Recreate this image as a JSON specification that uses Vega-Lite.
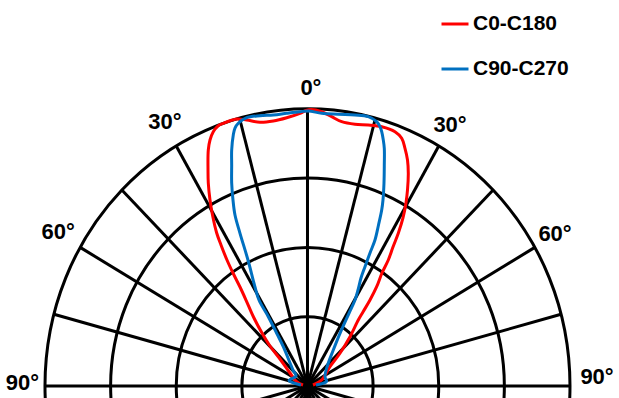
{
  "$schema": "https://vega.github.io/schema/vega-lite/v6.json",
  "width": 619,
  "height": 398,
  "autosize": {"type": "none"},
  "padding": 0,
  "background": "white",
  "config": {"view": {"stroke": null}},
  "datasets": {
    "rings": [{"r": 25}, {"r": 50}, {"r": 75}, {"r": 100}],
    "spokes": [
      {"angle": 0, "ex": 0, "ey": 100},
      {"angle": 15, "ex": 25.88, "ey": 96.59},
      {"angle": 30, "ex": 50, "ey": 86.6},
      {"angle": 45, "ex": 70.71, "ey": 70.71},
      {"angle": 60, "ex": 86.6, "ey": 50},
      {"angle": 75, "ex": 96.59, "ey": 25.88},
      {"angle": 90, "ex": 100, "ey": 0},
      {"angle": 105, "ex": 96.59, "ey": -25.88},
      {"angle": 120, "ex": 86.6, "ey": -50},
      {"angle": 135, "ex": 70.71, "ey": -70.71},
      {"angle": 150, "ex": 50, "ey": -86.6},
      {"angle": 165, "ex": 25.88, "ey": -96.59},
      {"angle": 180, "ex": 0, "ey": -100},
      {"angle": 195, "ex": -25.88, "ey": -96.59},
      {"angle": 210, "ex": -50, "ey": -86.6},
      {"angle": 225, "ex": -70.71, "ey": -70.71},
      {"angle": 240, "ex": -86.6, "ey": -50},
      {"angle": 255, "ex": -96.59, "ey": -25.88},
      {"angle": 270, "ex": -100, "ey": 0},
      {"angle": 285, "ex": -96.59, "ey": 25.88},
      {"angle": 300, "ex": -86.6, "ey": 50},
      {"angle": 315, "ex": -70.71, "ey": 70.71},
      {"angle": 330, "ex": -50, "ey": 86.6},
      {"angle": 345, "ex": -25.88, "ey": 96.59}
    ],
    "labels": [
      {"text": "0°", "x": 1.3, "y": 107.5},
      {"text": "30°", "x": -54.3, "y": 95.2},
      {"text": "30°", "x": 54.3, "y": 94.2},
      {"text": "60°", "x": -95.0, "y": 55.6},
      {"text": "60°", "x": 94.3, "y": 54.8},
      {"text": "90°", "x": -108.6, "y": 1.1},
      {"text": "90°", "x": 110.3, "y": 3.2}
    ],
    "curves": [
      {"series": "C0-C180", "i": 1, "x": -1.71, "y": 0.36},
      {"series": "C0-C180", "i": 2, "x": -4.0, "y": 1.44},
      {"series": "C0-C180", "i": 3, "x": -6.67, "y": 4.69},
      {"series": "C0-C180", "i": 4, "x": -10.48, "y": 9.74},
      {"series": "C0-C180", "i": 5, "x": -14.29, "y": 14.43},
      {"series": "C0-C180", "i": 6, "x": -17.33, "y": 19.12},
      {"series": "C0-C180", "i": 7, "x": -20.57, "y": 24.89},
      {"series": "C0-C180", "i": 8, "x": -23.43, "y": 31.02},
      {"series": "C0-C180", "i": 9, "x": -25.71, "y": 35.71},
      {"series": "C0-C180", "i": 10, "x": -28.38, "y": 40.76},
      {"series": "C0-C180", "i": 11, "x": -30.67, "y": 45.45},
      {"series": "C0-C180", "i": 12, "x": -32.95, "y": 50.87},
      {"series": "C0-C180", "i": 13, "x": -34.59, "y": 55.19},
      {"series": "C0-C180", "i": 14, "x": -36.19, "y": 61.69},
      {"series": "C0-C180", "i": 15, "x": -37.14, "y": 67.1},
      {"series": "C0-C180", "i": 16, "x": -37.79, "y": 73.23},
      {"series": "C0-C180", "i": 17, "x": -37.9, "y": 77.92},
      {"series": "C0-C180", "i": 18, "x": -37.79, "y": 85.14},
      {"series": "C0-C180", "i": 19, "x": -37.14, "y": 88.74},
      {"series": "C0-C180", "i": 20, "x": -35.89, "y": 91.74},
      {"series": "C0-C180", "i": 21, "x": -34.1, "y": 93.8},
      {"series": "C0-C180", "i": 22, "x": -32.08, "y": 94.77},
      {"series": "C0-C180", "i": 23, "x": -26.97, "y": 96.32},
      {"series": "C0-C180", "i": 24, "x": -23.16, "y": 95.96},
      {"series": "C0-C180", "i": 25, "x": -18.1, "y": 95.13},
      {"series": "C0-C180", "i": 26, "x": -13.03, "y": 95.6},
      {"series": "C0-C180", "i": 27, "x": -7.92, "y": 96.79},
      {"series": "C0-C180", "i": 28, "x": -2.86, "y": 98.38},
      {"series": "C0-C180", "i": 29, "x": -0.57, "y": 99.39},
      {"series": "C0-C180", "i": 30, "x": 1.33, "y": 99.75},
      {"series": "C0-C180", "i": 31, "x": 5.41, "y": 98.95},
      {"series": "C0-C180", "i": 32, "x": 9.22, "y": 97.15},
      {"series": "C0-C180", "i": 33, "x": 13.03, "y": 95.35},
      {"series": "C0-C180", "i": 34, "x": 18.1, "y": 94.41},
      {"series": "C0-C180", "i": 35, "x": 23.16, "y": 94.16},
      {"series": "C0-C180", "i": 36, "x": 28.27, "y": 93.54},
      {"series": "C0-C180", "i": 37, "x": 33.33, "y": 91.74},
      {"series": "C0-C180", "i": 38, "x": 35.89, "y": 89.36},
      {"series": "C0-C180", "i": 39, "x": 37.14, "y": 85.75},
      {"series": "C0-C180", "i": 40, "x": 38.1, "y": 81.53},
      {"series": "C0-C180", "i": 41, "x": 38.4, "y": 76.73},
      {"series": "C0-C180", "i": 42, "x": 38.1, "y": 70.71},
      {"series": "C0-C180", "i": 43, "x": 37.52, "y": 66.02},
      {"series": "C0-C180", "i": 44, "x": 36.38, "y": 60.61},
      {"series": "C0-C180", "i": 45, "x": 34.59, "y": 55.09},
      {"series": "C0-C180", "i": 46, "x": 32.57, "y": 50.14},
      {"series": "C0-C180", "i": 47, "x": 30.78, "y": 45.45},
      {"series": "C0-C180", "i": 48, "x": 28.38, "y": 40.76},
      {"series": "C0-C180", "i": 49, "x": 26.36, "y": 35.82},
      {"series": "C0-C180", "i": 50, "x": 23.81, "y": 31.02},
      {"series": "C0-C180", "i": 51, "x": 21.14, "y": 26.7},
      {"series": "C0-C180", "i": 52, "x": 19.35, "y": 23.81},
      {"series": "C0-C180", "i": 53, "x": 16.19, "y": 17.78},
      {"series": "C0-C180", "i": 54, "x": 12.38, "y": 11.8},
      {"series": "C0-C180", "i": 55, "x": 8.57, "y": 6.96},
      {"series": "C0-C180", "i": 56, "x": 5.41, "y": 2.16},
      {"series": "C0-C180", "i": 57, "x": 2.1, "y": 0.36},
      {"series": "C90-C270", "i": 1, "x": -2.48, "y": 0.36},
      {"series": "C90-C270", "i": 2, "x": -7.05, "y": 1.98},
      {"series": "C90-C270", "i": 3, "x": -4.38, "y": 3.61},
      {"series": "C90-C270", "i": 4, "x": -5.52, "y": 5.77},
      {"series": "C90-C270", "i": 5, "x": -9.22, "y": 14.18},
      {"series": "C90-C270", "i": 6, "x": -11.73, "y": 19.01},
      {"series": "C90-C270", "i": 7, "x": -14.93, "y": 25.0},
      {"series": "C90-C270", "i": 8, "x": -18.48, "y": 31.02},
      {"series": "C90-C270", "i": 9, "x": -20.0, "y": 35.71},
      {"series": "C90-C270", "i": 10, "x": -22.67, "y": 45.45},
      {"series": "C90-C270", "i": 11, "x": -25.71, "y": 55.09},
      {"series": "C90-C270", "i": 12, "x": -27.62, "y": 61.69},
      {"series": "C90-C270", "i": 13, "x": -28.38, "y": 67.1},
      {"series": "C90-C270", "i": 14, "x": -28.88, "y": 73.23},
      {"series": "C90-C270", "i": 15, "x": -28.88, "y": 79.73},
      {"series": "C90-C270", "i": 16, "x": -28.88, "y": 85.14},
      {"series": "C90-C270", "i": 17, "x": -28.27, "y": 90.55},
      {"series": "C90-C270", "i": 18, "x": -27.62, "y": 93.07},
      {"series": "C90-C270", "i": 19, "x": -26.36, "y": 94.77},
      {"series": "C90-C270", "i": 20, "x": -23.16, "y": 96.79},
      {"series": "C90-C270", "i": 21, "x": -18.1, "y": 97.51},
      {"series": "C90-C270", "i": 22, "x": -13.03, "y": 97.76},
      {"series": "C90-C270", "i": 23, "x": -7.92, "y": 98.38},
      {"series": "C90-C270", "i": 24, "x": -2.86, "y": 98.95},
      {"series": "C90-C270", "i": 25, "x": 0.3, "y": 99.21},
      {"series": "C90-C270", "i": 26, "x": 5.41, "y": 98.38},
      {"series": "C90-C270", "i": 27, "x": 11.73, "y": 98.02},
      {"series": "C90-C270", "i": 28, "x": 18.1, "y": 97.76},
      {"series": "C90-C270", "i": 29, "x": 23.16, "y": 97.15},
      {"series": "C90-C270", "i": 30, "x": 26.36, "y": 95.35},
      {"series": "C90-C270", "i": 31, "x": 27.62, "y": 93.54},
      {"series": "C90-C270", "i": 32, "x": 28.27, "y": 91.74},
      {"series": "C90-C270", "i": 33, "x": 28.88, "y": 88.74},
      {"series": "C90-C270", "i": 34, "x": 29.26, "y": 85.75},
      {"series": "C90-C270", "i": 35, "x": 29.26, "y": 79.73},
      {"series": "C90-C270", "i": 36, "x": 29.14, "y": 73.13},
      {"series": "C90-C270", "i": 37, "x": 28.76, "y": 67.1},
      {"series": "C90-C270", "i": 38, "x": 28.27, "y": 63.49},
      {"series": "C90-C270", "i": 39, "x": 27.05, "y": 58.08},
      {"series": "C90-C270", "i": 40, "x": 25.71, "y": 52.67},
      {"series": "C90-C270", "i": 41, "x": 23.81, "y": 47.98},
      {"series": "C90-C270", "i": 42, "x": 21.9, "y": 43.04},
      {"series": "C90-C270", "i": 43, "x": 20.38, "y": 38.96},
      {"series": "C90-C270", "i": 44, "x": 19.24, "y": 34.63},
      {"series": "C90-C270", "i": 45, "x": 18.1, "y": 31.02},
      {"series": "C90-C270", "i": 46, "x": 15.81, "y": 26.23},
      {"series": "C90-C270", "i": 47, "x": 12.38, "y": 19.01},
      {"series": "C90-C270", "i": 48, "x": 9.83, "y": 12.99},
      {"series": "C90-C270", "i": 49, "x": 7.43, "y": 6.85},
      {"series": "C90-C270", "i": 50, "x": 6.67, "y": 3.35},
      {"series": "C90-C270", "i": 51, "x": 7.24, "y": 1.62},
      {"series": "C90-C270", "i": 52, "x": 3.24, "y": 0.36}
    ]
  },
  "layer": [
    {
      "data": {"name": "rings"},
      "mark": {"type": "point", "shape": "M -1 0 A 1 1.056 0 1 1 1 0 A 1 1.056 0 1 1 -1 0 Z", "filled": false, "stroke": "black", "strokeWidth": 3, "opacity": 1, "clip": true},
      "encoding": {
        "x": {"datum": 0, "type": "quantitative", "scale": {"domain": [-117.14, 118.67], "nice": false, "zero": false}, "axis": null},
        "y": {"datum": 0, "type": "quantitative", "scale": {"domain": [-4.33, 139.25], "nice": false, "zero": false}, "axis": null},
        "size": {"field": "r", "type": "quantitative", "scale": {"type": "pow", "exponent": 2, "domain": [0, 100], "range": [0, 275625]}, "legend": null}
      }
    },
    {
      "data": {"name": "spokes"},
      "mark": {"type": "rule", "stroke": "black", "strokeWidth": 3, "clip": true},
      "encoding": {
        "x": {"field": "ex", "type": "quantitative", "scale": {"domain": [-117.14, 118.67], "nice": false, "zero": false}, "axis": null},
        "y": {"field": "ey", "type": "quantitative", "scale": {"domain": [-4.33, 139.25], "nice": false, "zero": false}, "axis": null},
        "x2": {"datum": 0},
        "y2": {"datum": 0}
      }
    },
    {
      "data": {"name": "curves"},
      "mark": {"type": "line", "strokeWidth": 3, "interpolate": "catmull-rom", "strokeJoin": "round", "clip": true},
      "encoding": {
        "x": {"field": "x", "type": "quantitative", "scale": {"domain": [-117.14, 118.67], "nice": false, "zero": false}, "axis": null},
        "y": {"field": "y", "type": "quantitative", "scale": {"domain": [-4.33, 139.25], "nice": false, "zero": false}, "axis": null},
        "order": {"field": "i", "type": "quantitative"},
        "color": {
          "field": "series",
          "type": "nominal",
          "scale": {"domain": ["C0-C180", "C90-C270"], "range": ["#FF0000", "#0070C0"]},
          "legend": {
            "orient": "none",
            "legendX": 440,
            "legendY": 9,
            "title": null,
            "padding": 0,
            "symbolType": "stroke",
            "symbolSize": 729,
            "symbolStrokeWidth": 3,
            "labelFont": "Liberation Sans",
            "labelFontWeight": "bold",
            "labelFontSize": 21,
            "labelColor": "black",
            "labelOffset": 3,
            "rowPadding": 20
          }
        }
      }
    },
    {
      "data": {"name": "labels"},
      "mark": {"type": "text", "font": "Liberation Sans", "fontWeight": "bold", "fontSize": 22, "color": "black", "align": "center", "baseline": "middle"},
      "encoding": {
        "x": {"field": "x", "type": "quantitative", "scale": {"domain": [-117.14, 118.67], "nice": false, "zero": false}, "axis": null},
        "y": {"field": "y", "type": "quantitative", "scale": {"domain": [-4.33, 139.25], "nice": false, "zero": false}, "axis": null},
        "text": {"field": "text"}
      }
    }
  ]
}
